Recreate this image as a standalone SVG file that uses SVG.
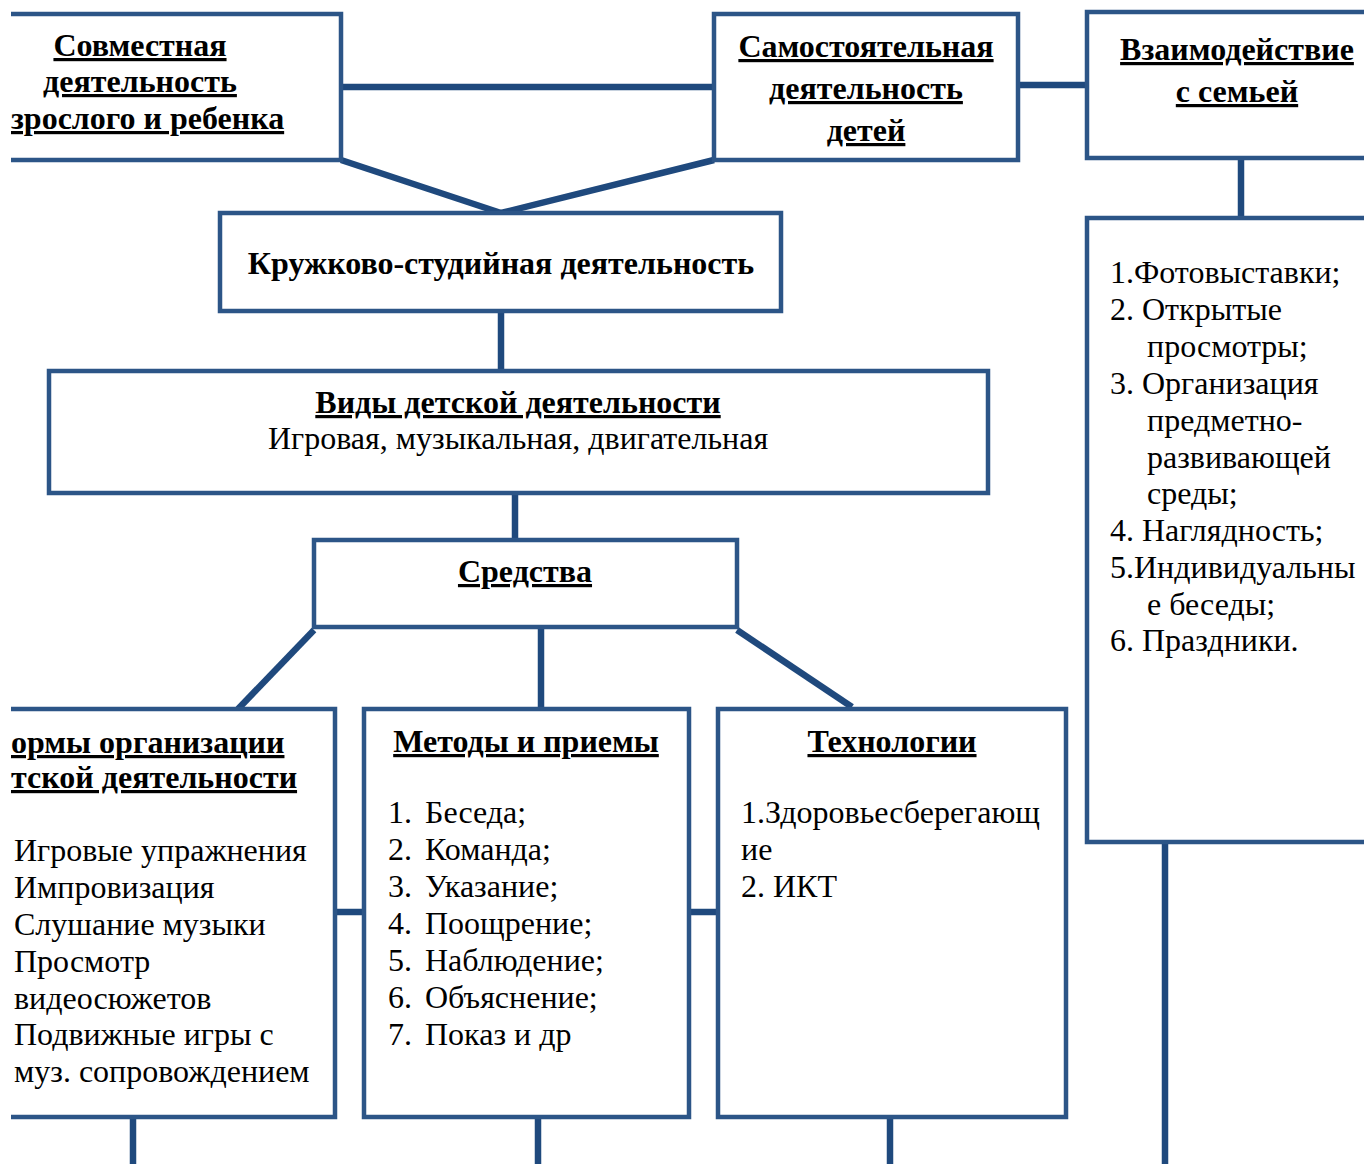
<svg xmlns="http://www.w3.org/2000/svg" width="1364" height="1164" viewBox="0 0 1364 1164">
<style>
.box{fill:#fff;stroke:#2C5587;stroke-width:4.5}
.con{fill:none;stroke:#1F497D;stroke-width:6.5}
.h{font-family:"Liberation Serif","Times New Roman",serif;font-weight:bold;font-size:32px;fill:#000;text-decoration:underline;text-decoration-thickness:3px;text-decoration-skip-ink:none}
.hb{font-family:"Liberation Serif","Times New Roman",serif;font-weight:bold;font-size:32px;fill:#000}
.t{font-family:"Liberation Serif","Times New Roman",serif;font-size:32px;fill:#000}
.c{text-anchor:middle}
</style>
<rect width="1364" height="1164" fill="#fff"/>
<g id="connectors">
<line class="con" x1="341" y1="87" x2="714" y2="87"/>
<line class="con" x1="1018" y1="85" x2="1087" y2="85"/>
<line class="con" x1="341" y1="160" x2="501" y2="213"/>
<line class="con" x1="714" y1="160" x2="501" y2="213"/>
<line class="con" x1="501" y1="311" x2="501" y2="371"/>
<line class="con" x1="515" y1="493" x2="515" y2="540"/>
<line class="con" x1="314" y1="630" x2="238" y2="709"/>
<line class="con" x1="541" y1="627" x2="541" y2="709"/>
<line class="con" x1="737" y1="630" x2="852" y2="707"/>
<line class="con" x1="335" y1="912" x2="364" y2="912"/>
<line class="con" x1="689" y1="912" x2="718" y2="912"/>
<line class="con" x1="133" y1="1117" x2="133" y2="1164"/>
<line class="con" x1="538" y1="1117" x2="538" y2="1164"/>
<line class="con" x1="890" y1="1117" x2="890" y2="1164"/>
<line class="con" x1="1241" y1="158" x2="1241" y2="218"/>
<line class="con" x1="1165" y1="842" x2="1165" y2="1164"/>
</g>
<g id="sovmestnaya">
<path class="box" d="M11,14 H341 V160 H11"/>
<text class="h c" x="140" y="56">Совместная</text>
<text class="h c" x="140" y="92">деятельность</text>
<text class="h" x="11" y="129">зрослого и ребенка</text>
</g>
<g id="samostoyatelnaya">
<rect class="box" x="714" y="14" width="304" height="146"/>
<text class="h c" x="866" y="57">Самостоятельная</text>
<text class="h c" x="866" y="99">деятельность</text>
<text class="h c" x="866" y="141">детей</text>
</g>
<g id="semya">
<path class="box" d="M1366,12 H1087 V158 H1366"/>
<text class="h c" x="1237" y="60">Взаимодействие</text>
<text class="h c" x="1237" y="102">с семьей</text>
</g>
<g id="kruzhkovo">
<rect class="box" x="220" y="213" width="561" height="98"/>
<text class="hb c" x="501" y="274">Кружково-студийная деятельность</text>
</g>
<g id="vidy">
<rect class="box" x="49" y="371" width="939" height="122"/>
<text class="h c" x="518" y="413">Виды детской деятельности</text>
<text class="t c" x="518" y="449">Игровая, музыкальная, двигательная</text>
</g>
<g id="sredstva">
<rect class="box" x="314" y="540" width="423" height="87"/>
<text class="h c" x="525" y="582">Средства</text>
</g>
<g id="formy">
<path class="box" d="M11,709 H335 V1117 H11"/>
<text class="h" x="11" y="753">ормы организации</text>
<text class="h" x="11" y="788">тской деятельности</text>
<text class="t" x="14" y="861">Игровые упражнения</text>
<text class="t" x="14" y="898">Импровизация</text>
<text class="t" x="14" y="935">Слушание музыки</text>
<text class="t" x="14" y="972">Просмотр</text>
<text class="t" x="14" y="1009">видеосюжетов</text>
<text class="t" x="14" y="1045">Подвижные игры с</text>
<text class="t" x="14" y="1082">муз. сопровождением</text>
</g>
<g id="metody">
<rect class="box" x="364" y="709" width="325" height="408"/>
<text class="h c" x="526" y="752">Методы и приемы</text>
<text class="t" x="388" y="823">1.</text><text class="t" x="425" y="823">Беседа;</text>
<text class="t" x="388" y="860">2.</text><text class="t" x="425" y="860">Команда;</text>
<text class="t" x="388" y="897">3.</text><text class="t" x="425" y="897">Указание;</text>
<text class="t" x="388" y="934">4.</text><text class="t" x="425" y="934">Поощрение;</text>
<text class="t" x="388" y="971">5.</text><text class="t" x="425" y="971">Наблюдение;</text>
<text class="t" x="388" y="1008">6.</text><text class="t" x="425" y="1008">Объяснение;</text>
<text class="t" x="388" y="1045">7.</text><text class="t" x="425" y="1045">Показ и др</text>
</g>
<g id="tehnologii">
<rect class="box" x="718" y="709" width="348" height="408"/>
<text class="h c" x="892" y="752">Технологии</text>
<text class="t" x="741" y="823">1.Здоровьесберегающ</text>
<text class="t" x="741" y="860">ие</text>
<text class="t" x="741" y="897">2. ИКТ</text>
</g>
<g id="semya-list">
<path class="box" d="M1366,218 H1087 V842 H1366"/>
<text class="t" x="1110" y="283">1.Фотовыставки;</text>
<text class="t" x="1110" y="320">2. Открытые</text>
<text class="t" x="1147" y="357">просмотры;</text>
<text class="t" x="1110" y="394">3. Организация</text>
<text class="t" x="1147" y="431">предметно-</text>
<text class="t" x="1147" y="468">развивающей</text>
<text class="t" x="1147" y="504">среды;</text>
<text class="t" x="1110" y="541">4. Наглядность;</text>
<text class="t" x="1110" y="578">5.Индивидуальны</text>
<text class="t" x="1147" y="615">е беседы;</text>
<text class="t" x="1110" y="651">6. Праздники.</text>
</g>
</svg>
